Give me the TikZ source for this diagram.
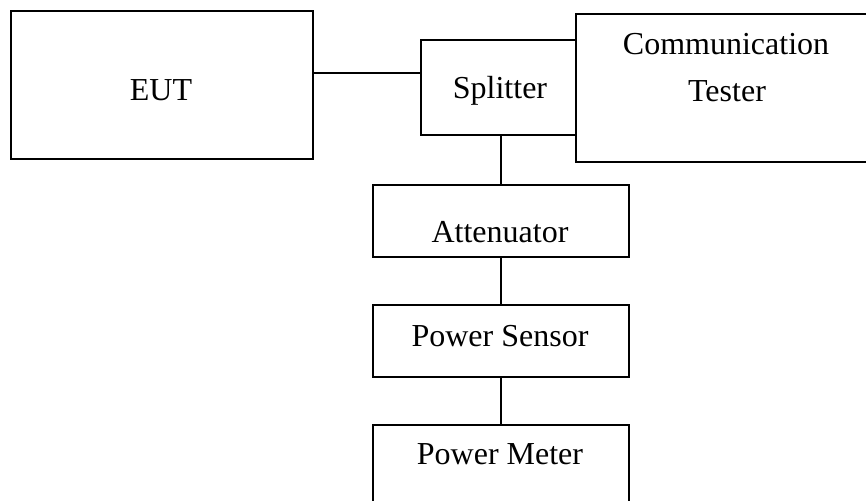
\documentclass[tikz,border=0pt]{standalone}
\usepackage{fontspec}
\setmainfont{Liberation Serif}
\usetikzlibrary{positioning}
\tikzstyle{layout} = [x = .5pt, y = -.5pt]
\tikzstyle{unitBoxStyle} = [draw, line width = 1pt, inner sep = 0pt, anchor = north west]
\tikzstyle{unitText} = [anchor = base, inner sep = 0pt, font = \fontsize{16}{19}\selectfont]
\tikzstyle{cable} = [line width = 1pt]
\newcommand{\unitBox}[5]{\node [unitBoxStyle, minimum width = #4 * .5pt, minimum height = #5 * .5pt] (#1) at (#2, #3) {};}
\newcommand{\unitLabel}[4]{\node [unitText] (#1) at (#2, #3) {#4};}

\begin{document}
\begin{tikzpicture}[layout]
          \clip (0,0) rectangle (866,500);
          \unitBox{eut}{10}{10}{302}{148}
          \unitBox{splitter}{420}{39}{155}{95}
          \unitBox{tester}{575}{13}{310}{148}
          \unitBox{atten}{372}{184}{256}{72}
          \unitBox{sensor}{372}{304}{256}{72}
          \unitBox{meter}{372}{424}{256}{100}

          \unitLabel{eutText}{161}{100}{EUT}
          \unitLabel{splitterText}{500}{98}{Splitter}
          \unitLabel{testerTop}{726}{54}{Communication}
          \unitLabel{testerBottom}{727}{101}{Tester}
          \unitLabel{attenText}{500}{242}{Attenuator}
          \unitLabel{sensorText}{500}{346}{Power Sensor}
          \unitLabel{meterText}{500}{464}{Power Meter}

          \coordinate (tap) at (0,73);
          \draw [cable] (eut.east |- tap) -- (splitter.west |- tap);
          \draw [cable] (splitter.south -| atten.north) -- (atten.north);
          \draw [cable] (atten) -- (sensor);
          \draw [cable] (sensor) -- (meter);
        \end{tikzpicture}
\end{document}
